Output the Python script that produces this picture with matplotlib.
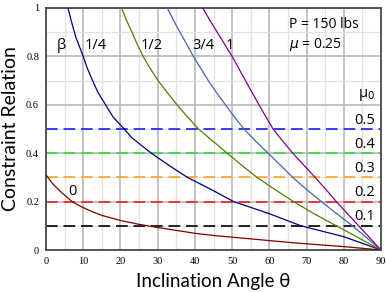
import matplotlib
matplotlib.use("Agg")
import matplotlib.pyplot as plt
from matplotlib.ticker import MultipleLocator, FuncFormatter

# curves (theta in degrees, constraint relation)
theta_b0 = [0, 1, 2, 3, 4, 5.5, 7, 8.5, 10, 12.5, 15, 20, 25, 30, 35, 40, 45, 55, 67, 80, 90]
rel_b0 = [0.31, 0.29, 0.27, 0.255, 0.24, 0.22, 0.2, 0.187, 0.175, 0.158, 0.143, 0.122, 0.106,
          0.093, 0.081, 0.069, 0.06, 0.046, 0.029, 0.014, 0]

theta_b14 = [5.9, 7, 8, 9, 10, 11, 12.5, 14, 16, 18, 21, 23, 25, 28.3, 33, 38, 45, 50.4, 60, 68.5, 80, 90]
rel_b14 = [1.0, 0.935, 0.88, 0.84, 0.8, 0.755, 0.7, 0.65, 0.6, 0.55, 0.5, 0.465, 0.44, 0.4, 0.35,
           0.3, 0.245, 0.2, 0.15, 0.1, 0.055, 0]

theta_b12 = [20.3, 21.6, 23.1, 24.5, 26.1, 28, 30.1, 32.6, 35.2, 38, 41.0, 44.8, 48.7, 52.6, 56.7,
             61.5, 66.5, 72, 78, 84, 90]
rel_b12 = [1.0, 0.95, 0.9, 0.85, 0.8, 0.75, 0.7, 0.65, 0.6, 0.55, 0.5, 0.45, 0.4, 0.35, 0.3,
           0.25, 0.2, 0.15, 0.1, 0.05, 0]

theta_b34 = [32.6, 34.2, 36, 37.8, 39.6, 41.6, 43.6, 45.8, 48.2, 50.6, 53.2, 56.3, 59.7, 63, 66.3,
             70, 74, 78.1, 82.3, 86.2, 90]
rel_b34 = [1.0, 0.95, 0.9, 0.85, 0.8, 0.75, 0.7, 0.65, 0.6, 0.55, 0.5, 0.45, 0.4, 0.35, 0.3,
           0.25, 0.2, 0.15, 0.1, 0.05, 0]

theta_b1 = [42.1, 44, 46, 48, 50, 51.8, 53.6, 55.4, 57.2, 59.1, 61, 63.6, 66.3, 69.3, 72.3, 75.2,
            78, 81, 84, 87, 90]
rel_b1 = [1.0, 0.95, 0.9, 0.85, 0.8, 0.75, 0.7, 0.65, 0.6, 0.55, 0.5, 0.45, 0.4, 0.35, 0.3,
          0.25, 0.2, 0.15, 0.1, 0.05, 0]

mu0_values = [0.5, 0.4, 0.3, 0.2, 0.1]
mu0_labels = ["0.5", "0.4", "0.3", "0.2", "0.1"]
mu0_colors = ["#1a1aff", "#33dd33", "#ffa520", "#ff1a1a", "#000000"]

beta_colors = ["#800000", "#000080", "#4f8000", "#4466a8", "#880088"]

fig = plt.figure(figsize=(3.87, 2.92), dpi=100)
ax = fig.add_axes([46/387, 42/292, 335/387, 242/292])

# reference lines for mu0
for v, c in zip(mu0_values, mu0_colors):
    ax.axhline(v, color=c, lw=1.2, dashes=(7, 3.5), zorder=2)

curves = [(theta_b0, rel_b0), (theta_b14, rel_b14), (theta_b12, rel_b12),
          (theta_b34, rel_b34), (theta_b1, rel_b1)]
for (t, r), c in zip(curves, beta_colors):
    ax.plot(t, r, color=c, lw=0.9, zorder=3)

ax.set_xlim(0, 90)
ax.set_ylim(0, 1)
ax.xaxis.set_major_locator(MultipleLocator(10))
ax.xaxis.set_minor_locator(MultipleLocator(5))
ax.yaxis.set_major_locator(MultipleLocator(0.2))
ax.yaxis.set_minor_locator(MultipleLocator(0.1))
ax.yaxis.set_major_formatter(FuncFormatter(lambda v, p: "%g" % round(v, 1)))
ax.grid(which="major", color="#b4b4b4", lw=1.1, zorder=0)
ax.grid(which="minor", color="#e2e2e2", lw=0.9, zorder=0)
ax.set_axisbelow(True)
ax.tick_params(which="both", length=0, pad=5, labelsize=7.5)
for lab in ax.get_xticklabels() + ax.get_yticklabels():
    lab.set_family("Liberation Serif")
for s in ax.spines.values():
    s.set_color("#4a4a4a")
    s.set_linewidth(1.3)

ax.set_xlabel("Inclination Angle θ", family="Lato", fontsize=13.5, labelpad=5)
ax.set_ylabel("Constraint Relation", family="Lato", fontsize=14, labelpad=5)

# beta labels
tf = dict(family="Open Sans", fontsize=10.5)
ax.text(4.2, 0.83, "β", ha="center", va="baseline", **tf)
ax.text(13.4, 0.83, "1/4", ha="center", va="baseline", **tf)
ax.text(28.5, 0.83, "1/2", ha="center", va="baseline", **tf)
ax.text(42.2, 0.83, "3/4", ha="center", va="baseline", **tf)
ax.text(49.5, 0.83, "1", ha="center", va="baseline", **tf)
ax.text(7.1, 0.227, "0", ha="center", va="baseline", **tf)

ax.text(65.3, 0.918, "P = 150 lbs", ha="left", va="baseline", family="Open Sans", fontsize=10)
ax.text(65.3, 0.836, r"$\mu$ = 0.25", ha="left", va="baseline", family="Open Sans", fontsize=10)

ax.text(88.3, 0.633, "μ$_0$", ha="right", va="baseline", **tf)
for v, s in zip(mu0_values, mu0_labels):
    ax.text(88.3, v + 0.022, s, ha="right", va="baseline", **tf)

fig.savefig("out.png", dpi=100)
